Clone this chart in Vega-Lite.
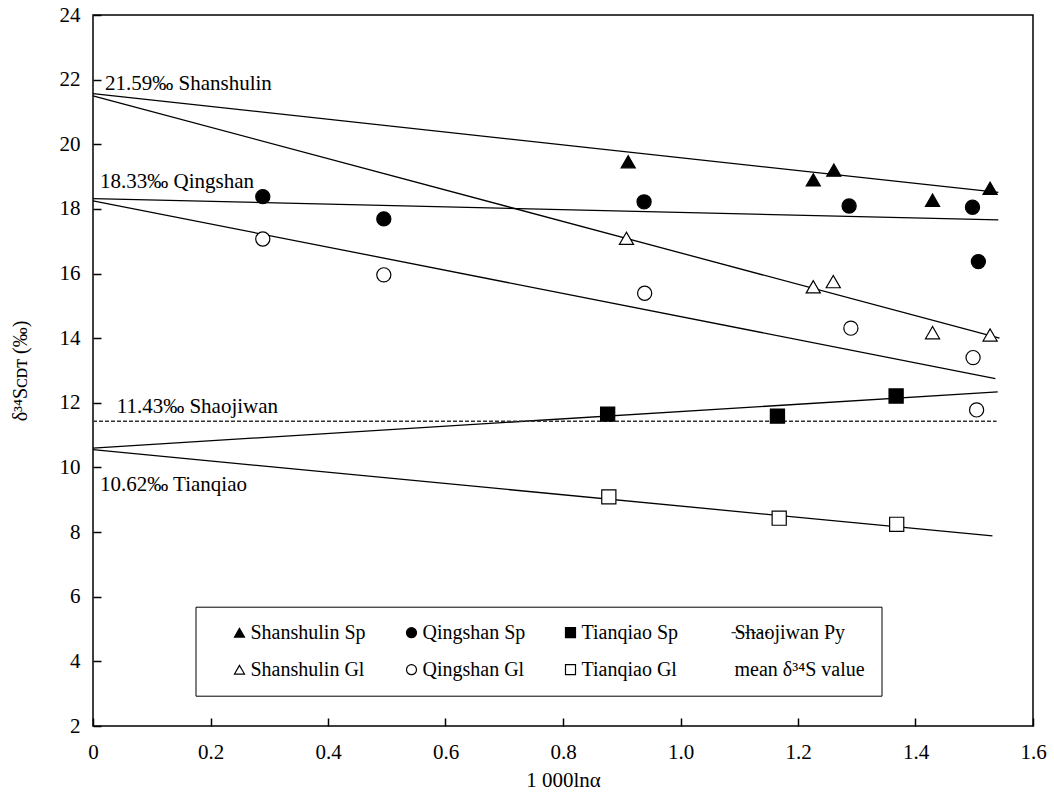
{
  "$schema": "https://vega.github.io/schema/vega-lite/v6.json",
  "width": 940,
  "height": 711,
  "autosize": {"type": "none"},
  "padding": {"left": 93, "top": 15, "right": 21, "bottom": 68},
  "background": "white",
  "config": {
    "view": {"stroke": "black", "strokeWidth": 1.5, "fill": "transparent"},
    "font": "Liberation Serif",
    "axis": {
      "grid": false,
      "domain": false,
      "ticks": true,
      "tickOpacity": 1,
      "tickColor": "black",
      "tickWidth": 1.5,
      "labelColor": "black",
      "titleColor": "black",
      "labelFont": "Liberation Serif",
      "titleFont": "Liberation Serif",
      "labelFontSize": 21,
      "titleFontSize": 20,
      "titleFontWeight": "normal"
    }
  },
  "datasets": {
    "points": [
      {"series": "Shanshulin Sp", "x": 0.911, "y": 19.46},
      {"series": "Shanshulin Sp", "x": 1.226, "y": 18.9},
      {"series": "Shanshulin Sp", "x": 1.261, "y": 19.2},
      {"series": "Shanshulin Sp", "x": 1.429, "y": 18.27},
      {"series": "Shanshulin Sp", "x": 1.527, "y": 18.64},
      {"series": "Qingshan Sp", "x": 0.289, "y": 18.38},
      {"series": "Qingshan Sp", "x": 0.495, "y": 17.69},
      {"series": "Qingshan Sp", "x": 0.938, "y": 18.22},
      {"series": "Qingshan Sp", "x": 1.287, "y": 18.09},
      {"series": "Qingshan Sp", "x": 1.497, "y": 18.05},
      {"series": "Qingshan Sp", "x": 1.507, "y": 16.37},
      {"series": "Tianqiao Sp", "x": 0.876, "y": 11.65},
      {"series": "Tianqiao Sp", "x": 1.165, "y": 11.59},
      {"series": "Tianqiao Sp", "x": 1.367, "y": 12.21},
      {"series": "Shanshulin Gl", "x": 0.908, "y": 17.09},
      {"series": "Shanshulin Gl", "x": 1.226, "y": 15.59},
      {"series": "Shanshulin Gl", "x": 1.26, "y": 15.75},
      {"series": "Shanshulin Gl", "x": 1.429, "y": 14.17},
      {"series": "Shanshulin Gl", "x": 1.527, "y": 14.1},
      {"series": "Qingshan Gl", "x": 0.289, "y": 17.07},
      {"series": "Qingshan Gl", "x": 0.495, "y": 15.96},
      {"series": "Qingshan Gl", "x": 0.939, "y": 15.39},
      {"series": "Qingshan Gl", "x": 1.29, "y": 14.31},
      {"series": "Qingshan Gl", "x": 1.498, "y": 13.4},
      {"series": "Qingshan Gl", "x": 1.504, "y": 11.78},
      {"series": "Tianqiao Gl", "x": 0.878, "y": 9.09},
      {"series": "Tianqiao Gl", "x": 1.168, "y": 8.43},
      {"series": "Tianqiao Gl", "x": 1.368, "y": 8.24}
    ],
    "lines": [
      {"line": "Shanshulin Sp", "x": 0, "y": 21.57},
      {"line": "Shanshulin Sp", "x": 1.541, "y": 18.51},
      {"line": "Shanshulin Gl", "x": 0, "y": 21.5},
      {"line": "Shanshulin Gl", "x": 1.543, "y": 14.0},
      {"line": "Qingshan Sp", "x": 0, "y": 18.32},
      {"line": "Qingshan Sp", "x": 1.541, "y": 17.66},
      {"line": "Qingshan Gl", "x": 0, "y": 18.25},
      {"line": "Qingshan Gl", "x": 1.536, "y": 12.75},
      {"line": "Tianqiao Sp", "x": 0, "y": 10.6},
      {"line": "Tianqiao Sp", "x": 1.54, "y": 12.34},
      {"line": "Tianqiao Gl", "x": 0, "y": 10.55},
      {"line": "Tianqiao Gl", "x": 1.531, "y": 7.88}
    ],
    "mean": [
      {"x": 0, "y": 11.43},
      {"x": 1.538, "y": 11.43}
    ],
    "labels": [
      {"label": "21.59‰ Shanshulin", "x": 0.0204, "y": 21.86},
      {"label": "18.33‰ Qingshan", "x": 0.0119, "y": 18.84},
      {"label": "11.43‰ Shaojiwan", "x": 0.0403, "y": 11.88},
      {"label": "10.62‰ Tianqiao", "x": 0.0119, "y": 9.46}
    ]
  },
  "encoding": {
    "x": {
      "field": "x",
      "type": "quantitative",
      "scale": {"domain": [0, 1.6], "nice": false, "zero": false},
      "axis": {
        "values": [0, 0.2, 0.4, 0.6, 0.8, 1.0, 1.2, 1.4, 1.6],
        "zindex": 2,
        "offset": -8,
        "ticks": true,
        "tickSize": 8,
        "labelPadding": 15,
        "labelFlush": false,
        "labelExpr": "datum.value == 0 ? '0' : format(datum.value, '.1f')",
        "title": "1 000lnα",
        "titleFontSize": 21,
        "titleY": 62,
        "titleBaseline": "middle"
      }
    },
    "y": {
      "field": "y",
      "type": "quantitative",
      "scale": {"domain": [2, 24], "nice": false, "zero": false},
      "axis": {
        "values": [2, 4, 6, 8, 10, 12, 14, 16, 18, 20, 22, 24],
        "zindex": 2,
        "offset": -8,
        "ticks": true,
        "tickSize": 8,
        "labelPadding": 13,
        "labelFlush": false,
        "title": "δ³⁴Sᴄᴅᴛ (‰)",
        "titleX": -81,
        "titleY": 355.5,
        "titleAngle": -90,
        "titleAlign": "center",
        "titleBaseline": "middle"
      }
    }
  },
  "layer": [
    {
      "data": {"name": "lines"},
      "mark": {"type": "line", "color": "black", "strokeWidth": 1.3},
      "encoding": {"detail": {"field": "line", "type": "nominal"}}
    },
    {
      "data": {"name": "mean"},
      "mark": {"type": "line", "color": "#333333", "strokeWidth": 1.3, "strokeDash": [4, 2]},
      "encoding": {}
    },
    {
      "data": {"name": "labels"},
      "mark": {"type": "text", "align": "left", "baseline": "middle", "font": "Liberation Serif", "fontSize": 21, "color": "black"},
      "encoding": {"text": {"field": "label", "type": "nominal"}}
    },
    {
      "data": {"name": "points"},
      "mark": {"type": "point", "filled": true, "strokeWidth": 1.2, "size": 200, "opacity": 1},
      "encoding": {
        "shape": {
          "field": "series",
          "type": "nominal",
          "scale": {
            "domain": ["Shanshulin Sp", "Qingshan Sp", "Tianqiao Sp", "Shaojiwan Py", "Shanshulin Gl", "Qingshan Gl", "Tianqiao Gl", "mean δ³⁴S value"],
            "range": ["triangle-up", "circle", "square", "M1.6,0H2.5M2.94,0H3.84M4.28,0H5.18M5.62,0H6.52M6.96,0H7.86M8.3,0H9.2", "triangle-up", "circle", "square", "M0,0"]
          },
          "legend": {
            "title": null,
            "orient": "none",
            "legendX": 102.5,
            "legendY": 591.7,
            "columns": 4,
            "direction": "horizontal",
            "strokeColor": "black",
            "fillColor": "white",
            "padding": 16,
            "labelFont": "Liberation Serif",
            "labelFontSize": 20,
            "labelColor": "black",
            "labelLimit": 400,
            "labelOffset": 1,
            "labelExpr": "datum.label == 'Shaojiwan Py' ? '\u00a0\u00a0\u00a0\u00a0\u00a0\u00a0\u00a0\u00a0\u00a0\u00a0\u00a0\u00a0' + datum.label : datum.label == 'mean δ³⁴S value' ? '\u00a0\u00a0\u00a0\u00a0\u00a0\u00a0\u00a0\u00a0\u00a0\u00a0\u00a0\u00a0\u00a0' + datum.label : datum.label",
            "symbolSize": 100,
            "symbolOffset": 18,
            "symbolStrokeWidth": 1.2,
            "symbolOpacity": 1,
            "columnPadding": 17,
            "rowPadding": 17
          }
        },
        "fill": {
          "field": "series",
          "type": "nominal",
          "scale": {
            "domain": ["Shanshulin Sp", "Qingshan Sp", "Tianqiao Sp", "Shaojiwan Py", "Shanshulin Gl", "Qingshan Gl", "Tianqiao Gl", "mean δ³⁴S value"],
            "range": ["black", "black", "black", "transparent", "white", "white", "white", "transparent"]
          }
        },
        "stroke": {
          "field": "series",
          "type": "nominal",
          "scale": {
            "domain": ["Shanshulin Sp", "Qingshan Sp", "Tianqiao Sp", "Shaojiwan Py", "Shanshulin Gl", "Qingshan Gl", "Tianqiao Gl", "mean δ³⁴S value"],
            "range": ["black", "black", "black", "#333333", "black", "black", "black", "transparent"]
          }
        }
      }
    }
  ]
}
